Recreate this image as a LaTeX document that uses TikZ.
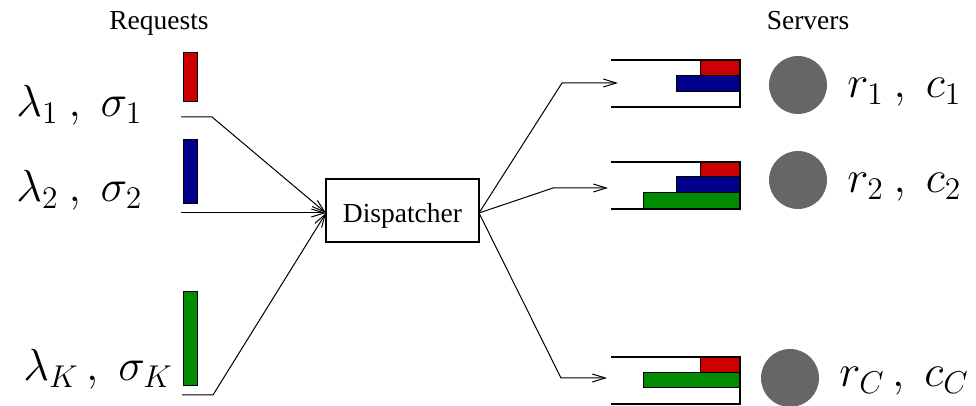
\RequirePackage{fix-cm}
\documentclass[tikz,border=0pt]{standalone}
\usepackage[no-math]{fontspec}
\setmainfont{Liberation Serif}
\usetikzlibrary{arrows.meta}
\definecolor{reqred}{RGB}{204,0,0}
\definecolor{reqblue}{RGB}{0,0,140}
\definecolor{reqgreen}{RGB}{0,140,0}
\definecolor{srvgray}{RGB}{102,102,102}
\begin{document}
\begin{tikzpicture}[x=0.5pt,y=-0.5pt,
  hdr/.style={font=\fontsize{13.75}{16}\selectfont, inner sep=0pt, anchor=base},
  mlbl/.style={font=\fontsize{22.5}{27}\selectfont, inner sep=0pt, anchor=base west},
  reqbar/.style={draw=black, line width=0.5pt, minimum width=7pt, inner sep=0pt},
  blk/.style={draw=black, line width=0.5pt},
  wall/.style={draw=black, line width=0.6pt},
  link/.style={draw=black, line width=0.5pt},
  feed/.style={link, -{Straight Barb[length=6.5pt,width=4pt]}},
  server/.style={circle, fill=srvgray, minimum size=29pt, inner sep=0pt},
  dispbox/.style={draw=black, line width=0.6pt, minimum width=76.5pt, minimum height=31.5pt,
                  inner sep=0pt, text height=12.5pt, text depth=0pt,
                  font=\fontsize{13.75}{16}\selectfont}]
\useasboundingbox (0,0) rectangle (976,406);

% column headings
\node[hdr] (hreq) at (159,30) {Requests};
\node[hdr] (hsrv) at (808,30) {Servers};

% request classes
\node[mlbl] (l1) at (16,117) {$\lambda_1\:,\;\sigma_1$};
\node[mlbl] (l2) at (16,202) {$\lambda_2\:,\;\sigma_2$};
\node[mlbl] (lK) at (23,381) {$\lambda_K\,,\;\sigma_K$};

\node[reqbar, fill=reqred,   minimum height=24.5pt] (b1) at (190,77.5) {};
\node[reqbar, fill=reqblue,  minimum height=32pt]   (b2) at (190,172) {};
\node[reqbar, fill=reqgreen, minimum height=47pt]   (bK) at (190,339) {};

% dispatcher
\node[dispbox] (disp) at (402.5,210.5) {Dispatcher};
\coordinate (din)  at (326,213);
\coordinate (dout) at (479,213);

% incoming streams
\coordinate (i1) at (181,117); \coordinate (j1) at (212,117);
\coordinate (i2) at (181,213);
\coordinate (iK) at (182,395); \coordinate (jK) at (213,395);
\draw[feed] (i1) -- (j1) -- (din);
\draw[feed] (i2) -- (din);
\draw[feed] (iK) -- (jK) -- (din);

% outgoing streams
\coordinate (o1) at (562,83);  \coordinate (q1) at (618,83);
\coordinate (o2) at (553,188); \coordinate (q2) at (608,188);
\coordinate (oC) at (561,378); \coordinate (qC) at (607,378);
\draw[feed] (dout) -- (o1) -- (q1);
\draw[feed] (dout) -- (o2) -- (q2);
\draw[feed] (dout) -- (oC) -- (qC);

% queue 1
\draw[blk, fill=reqred]  (700,61) rectangle (740,76);
\draw[blk, fill=reqblue] (676,76) rectangle (740,92);
\draw[wall] (611,60) -- (740,60) -- (740,107) -- (611,107);

% queue 2
\draw[blk, fill=reqred]   (700,162) rectangle (740,177);
\draw[blk, fill=reqblue]  (676,177) rectangle (740,193);
\draw[blk, fill=reqgreen] (643,193) rectangle (740,209);
\draw[wall] (611,162) -- (740,162) -- (740,209) -- (611,209);

% queue C
\draw[blk, fill=reqred]   (700,357) rectangle (740,373);
\draw[blk, fill=reqgreen] (643,373) rectangle (740,388);
\draw[wall] (611,357) -- (740,357) -- (740,404) -- (611,404);

% servers
\node[server] (s1) at (798,85) {};
\node[server] (s2) at (798,180) {};
\node[server] (sC) at (790,378) {};

\node[mlbl] (r1) at (847,98)  {$r_1\:,\;c_1$};
\node[mlbl] (r2) at (847,193) {$r_2\:,\;c_2$};
\node[mlbl] (rC) at (839,387) {$r_C\,,\;c_C$};
\end{tikzpicture}
\end{document}
